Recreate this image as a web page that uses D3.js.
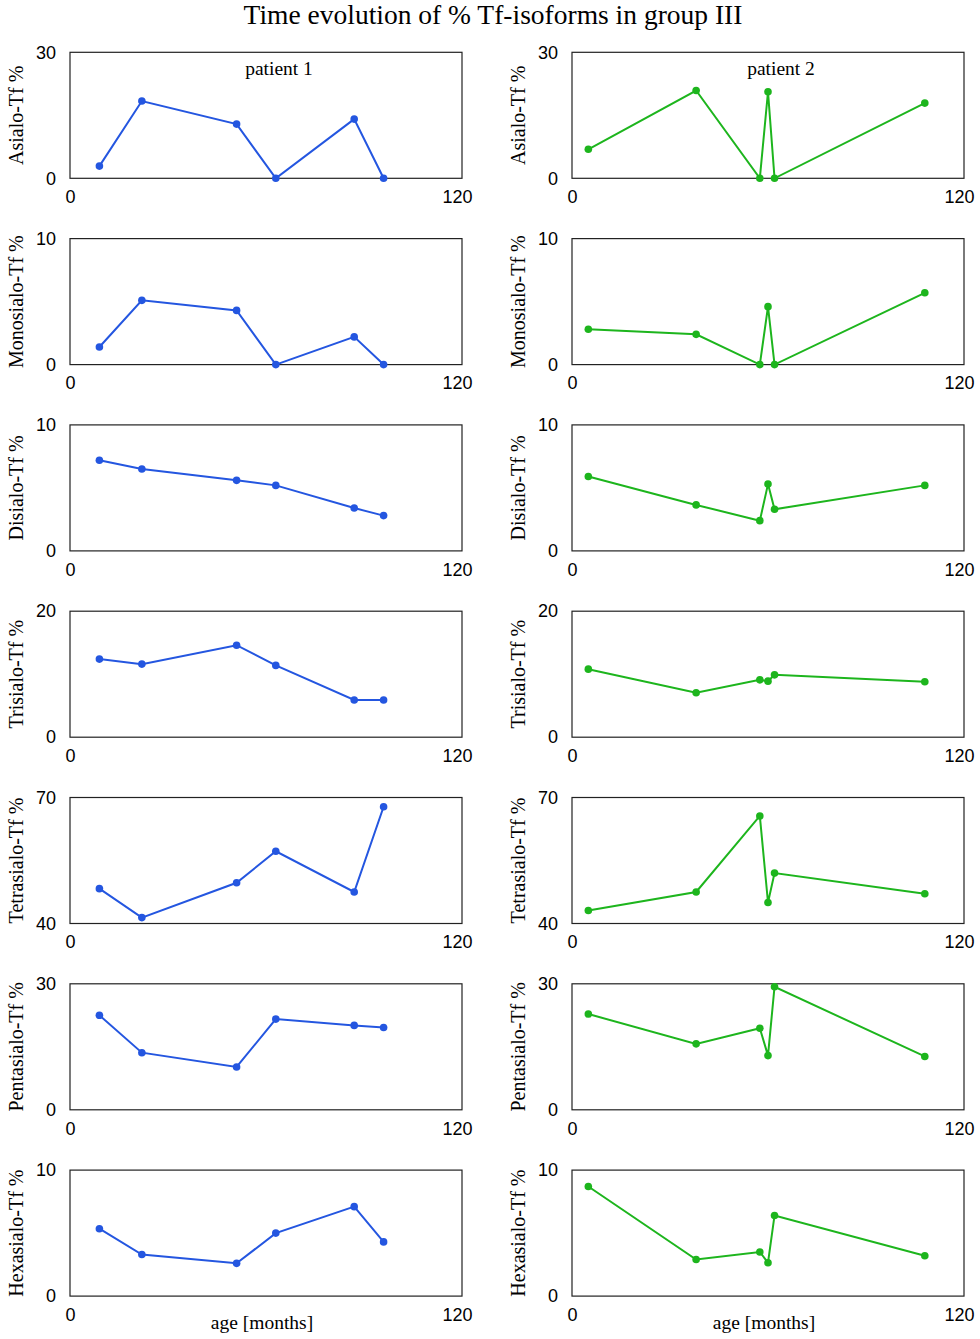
<!DOCTYPE html>
<html>
<head>
<meta charset="utf-8">
<script src="https://cdn.jsdelivr.net/npm/d3@7"></script>
<style>
  body { margin: 0; background: #fff; }
  svg { display: block; }
</style>
</head>
<body>
<div id="chart"></div>
<script>
var width = 980, height = 1339;

// panel layout
var colX = [70, 572];
var plotW = 392, plotH = 126;
var firstTop = 52.3, rowStep = 186.3;

var serif = "'Times New Roman', 'Liberation Serif', serif";
var sans = "Arial, 'Liberation Sans', sans-serif";

// ---- data ----
const isoforms = ["Asialo", "Monosialo", "Disialo", "Trisialo", "Tetrasialo", "Pentasialo", "Hexasialo"];
const yDomains = [[0, 30], [0, 10], [0, 10], [0, 20], [40, 70], [0, 30], [0, 10]];
const patients = ["patient 1", "patient 2"];
const colors = ["#2456e0", "#1db51d"];

// age in months of each sample
const ages1 = [9, 22, 51, 63, 87, 96];
const ages2 = [5, 38, 57.5, 60, 62, 108];

// % Tf-isoform per sample, one row per isoform (same order as isoforms)
const values1 = [
    [2.9, 18.4, 12.9, 0, 14.1, 0],
    [1.4, 5.1, 4.3, 0, 2.2, 0],
    [7.2, 6.5, 5.6, 5.2, 3.4, 2.8],
    [12.4, 11.6, 14.6, 11.4, 5.9, 5.9],
    [48.3, 41.4, 49.7, 57.2, 47.5, 67.8],
    [22.5, 13.6, 10.2, 21.6, 20.1, 19.6],
    [5.35, 3.3, 2.6, 5.0, 7.1, 4.3]
];
const values2 = [
    [6.9, 20.9, 0, 20.6, 0, 17.9],
    [2.8, 2.4, 0, 4.6, 0, 5.7],
    [5.9, 3.65, 2.4, 5.3, 3.3, 5.2],
    [10.8, 7.05, 9.1, 8.9, 9.9, 8.8],
    [43.1, 47.5, 65.6, 45.0, 52.0, 47.1],
    [22.8, 15.7, 19.4, 12.9, 29.3, 12.7],
    [8.7, 2.9, 3.5, 2.65, 6.4, 3.2]
];
const xTicks = [0, 120];
const xDomain = [0, 120];

var svg = d3.select("#chart")
    .append("svg")
        .attr("width", width)
        .attr("height", height);

svg.append("text")
    .attr("x", 493)
    .attr("y", 24)
    .attr("text-anchor", "middle")
    .style("font-family", serif)
    .style("font-size", "27.5px")
    .text("Time evolution of % Tf-isoforms in group III");

var x = d3.scaleLinear().domain(xDomain).range([0, plotW]);

function panel(row, col) {
    var ages = col == 0 ? ages1 : ages2;
    var vals = (col == 0 ? values1 : values2)[row];
    var color = colors[col];
    var y = d3.scaleLinear().domain(yDomains[row]).range([plotH, 0]);

    var g = svg.append("g")
        .attr("transform", "translate(" + colX[col] + "," + (firstTop + row * rowStep) + ")");

    g.append("rect")
        .attr("width", plotW)
        .attr("height", plotH)
        .attr("fill", "none")
        .attr("stroke", "#222")
        .attr("stroke-width", 1.2);

    var yAxis = g.append("g")
        .call(d3.axisLeft(y).tickValues(yDomains[row]).tickSize(0).tickPadding(14));
    var xAxis = g.append("g")
        .attr("transform", "translate(0," + plotH + ")")
        .call(d3.axisBottom(x).tickValues(xTicks).tickSize(0).tickPadding(12));
    [yAxis, xAxis].forEach(function(a) {
        a.select(".domain").remove();
        a.selectAll("text")
            .style("font-family", sans)
            .style("font-size", "18px")
            .attr("fill", "#000");
    });
    xAxis.selectAll("text").filter(function(d) { return d == 120; }).attr("dx", -5);

    // y label
    g.append("text")
        .attr("transform", "translate(" + (-47) + "," + (plotH / 2) + ") rotate(-90)")
        .attr("text-anchor", "middle")
        .style("font-family", serif)
        .style("font-size", "20px")
        .text(isoforms[row] + "-Tf %");

    var pts = ages.map(function(a, i) { return [a, vals[i]]; });

    g.append("path")
        .datum(pts)
        .attr("fill", "none")
        .attr("stroke", color)
        .attr("stroke-width", 2)
        .attr("d", d3.line()
            .x(function(d) { return x(d[0]); })
            .y(function(d) { return y(d[1]); }));

    g.selectAll("circle")
        .data(pts)
        .join("circle")
        .attr("r", 3.8)
        .attr("fill", color)
        .attr("cx", function(d) { return x(d[0]); })
        .attr("cy", function(d) { return y(d[1]); });

    if (row == 0) {
        g.append("text")
            .attr("x", plotW / 2 + 13)
            .attr("y", 23)
            .attr("text-anchor", "middle")
            .style("font-family", serif)
            .style("font-size", "19.5px")
            .text(patients[col]);
    }
    if (row == isoforms.length - 1) {
        g.append("text")
            .attr("x", plotW / 2 - 4)
            .attr("y", plotH + 33)
            .attr("text-anchor", "middle")
            .style("font-family", serif)
            .style("font-size", "19.5px")
            .text("age [months]");
    }
}

for (var r = 0; r < isoforms.length; r++) {
    for (var c = 0; c < 2; c++) {
        panel(r, c);
    }
}
</script>
</body>
</html>
